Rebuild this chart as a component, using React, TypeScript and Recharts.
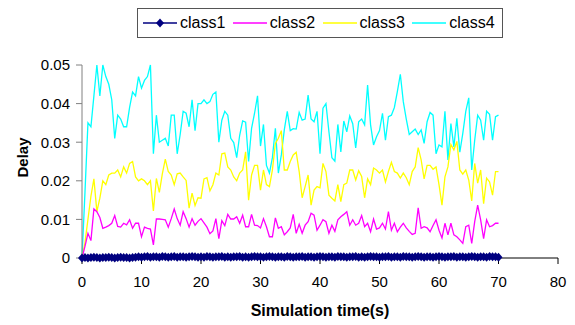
import { LineChart, Line, XAxis, YAxis, Legend, Label } from "recharts";

// sampling instants: one sample every 0.5 s, from 0 to 70 s
const STEP = 0.5;
const SAMPLES = 141;
const times = Array.from({ length: SAMPLES }, (_, i) => i * STEP);

const seriesNames = ["class1", "class2", "class3", "class4"];
const xTicks = [0, 10, 20, 30, 40, 50, 60, 70, 80];
const yTicks = [0, 0.01, 0.02, 0.03, 0.04, 0.05];

const class1 = [
  0, 0.0001, 0, 0.0001, 0.0002, 0.0001, 0, 0.0001, 0.0001, 0.0002,
  0.0001, 0, 0.0001, 0.0002, 0.0001, 0.0001, 0, 0.0001, 0.0002, 0.0003,
  0.0002, 0.0003, 0.0004, 0.0002, 0.0003, 0.0003, 0.0002, 0.0004, 0.0003, 0.0002,
  0.0003, 0.0004, 0.0002, 0.0003, 0.0003, 0.0002, 0.0003, 0.0004, 0.0003, 0.0002,
  0.0003, 0.0002, 0.0004, 0.0003, 0.0002, 0.0003, 0.0003, 0.0004, 0.0002, 0.0003,
  0.0002, 0.0003, 0.0003, 0.0004, 0.0002, 0.0003, 0.0002, 0.0003, 0.0004, 0.0003,
  0.0003, 0.0002, 0.0003, 0.0004, 0.0003, 0.0002, 0.0003, 0.0003, 0.0002, 0.0004,
  0.0003, 0.0002, 0.0003, 0.0003, 0.0004, 0.0002, 0.0003, 0.0003, 0.0002, 0.0003,
  0.0004, 0.0003, 0.0002, 0.0003, 0.0003, 0.0002, 0.0004, 0.0003, 0.0003, 0.0002,
  0.0003, 0.0003, 0.0004, 0.0002, 0.0003, 0.0002, 0.0003, 0.0004, 0.0003, 0.0003,
  0.0002, 0.0003, 0.0003, 0.0004, 0.0002, 0.0003, 0.0003, 0.0002, 0.0004, 0.0003,
  0.0003, 0.0002, 0.0003, 0.0004, 0.0003, 0.0002, 0.0003, 0.0003, 0.0002, 0.0003,
  0.0004, 0.0003, 0.0002, 0.0003, 0.0003, 0.0004, 0.0002, 0.0003, 0.0003, 0.0002,
  0.0003, 0.0004, 0.0003, 0.0002, 0.0003, 0.0003, 0.0002, 0.0004, 0.0003, 0.0003,
  0.0002,
];

const class2 = [
  0, 0.003, 0.0064, 0.0045, 0.0127, 0.012, 0.0105, 0.0077, 0.008, 0.0084,
  0.009, 0.011, 0.0082, 0.008, 0.009, 0.0086, 0.0099, 0.0077, 0.009, 0.009,
  0.0055, 0.008, 0.0077, 0.0075, 0.0034, 0.0101, 0.0101, 0.01, 0.0099, 0.008,
  0.0102, 0.0127, 0.0102, 0.0085, 0.012, 0.0102, 0.008, 0.0102, 0.0085, 0.0095,
  0.0102, 0.0091, 0.008, 0.0063, 0.007, 0.0102, 0.005, 0.0097, 0.0084, 0.0113,
  0.0101, 0.0101, 0.0107, 0.009, 0.0111, 0.0081, 0.0081, 0.0113, 0.0085, 0.0084,
  0.0078, 0.0102, 0.0081, 0.0055, 0.0055, 0.0104, 0.0077, 0.0081, 0.006, 0.0068,
  0.0078, 0.0113, 0.0064, 0.0087, 0.0064, 0.0085, 0.0094, 0.0116, 0.0111, 0.0072,
  0.0085, 0.0099, 0.0094, 0.0064, 0.0085, 0.0069, 0.0099, 0.0107, 0.0113, 0.012,
  0.0085, 0.0099, 0.0085, 0.009, 0.011, 0.0081, 0.009, 0.0068, 0.0101, 0.0075,
  0.0078, 0.009, 0.0075, 0.012, 0.0072, 0.009, 0.0068, 0.008, 0.009, 0.0078,
  0.0069, 0.0061, 0.0064, 0.013, 0.0077, 0.0081, 0.0078, 0.0068, 0.0084, 0.0099,
  0.0072, 0.0052, 0.009, 0.006, 0.009, 0.006, 0.0055, 0.0047, 0.0038, 0.0081,
  0.0085, 0.0038, 0.0094, 0.0137, 0.0099, 0.005, 0.0099, 0.0081, 0.0084, 0.009,
  0.009,
];

const class3 = [
  0, 0.004, 0.01, 0.016, 0.0205, 0.012, 0.0155, 0.02, 0.019, 0.0215,
  0.022, 0.022, 0.0228, 0.021, 0.0236, 0.022, 0.0245, 0.025, 0.021, 0.02,
  0.0205, 0.02, 0.019, 0.02, 0.0122, 0.0206, 0.017, 0.0218, 0.0256, 0.0224,
  0.0215, 0.019, 0.0218, 0.022, 0.021, 0.0201, 0.0129, 0.0168, 0.0136, 0.0156,
  0.0155, 0.0205, 0.0208, 0.0174, 0.019, 0.022, 0.0215, 0.027, 0.0272, 0.0236,
  0.0228, 0.021, 0.02, 0.022, 0.0228, 0.0275, 0.015, 0.0215, 0.024, 0.024,
  0.0176, 0.0228, 0.019, 0.0185, 0.0228, 0.0297, 0.031, 0.033, 0.0228, 0.0228,
  0.025, 0.0267, 0.0274, 0.0224, 0.0156, 0.0185, 0.0215, 0.0137, 0.0176, 0.0185,
  0.0182, 0.0245, 0.0224, 0.0163, 0.0155, 0.0148, 0.019, 0.0146, 0.019, 0.0194,
  0.0228, 0.0228, 0.0202, 0.0226, 0.0211, 0.0156, 0.0205, 0.019, 0.0233, 0.0228,
  0.022, 0.0228, 0.0197, 0.0224, 0.0248, 0.0224, 0.022, 0.0207, 0.022, 0.0208,
  0.019, 0.0224, 0.0236, 0.0286, 0.0254, 0.0205, 0.024, 0.024, 0.023, 0.0236,
  0.019, 0.0137, 0.021, 0.0236, 0.0294, 0.028, 0.0302, 0.0228, 0.0217, 0.0228,
  0.0202, 0.0148, 0.0245, 0.0194, 0.0228, 0.0141, 0.0207, 0.0197, 0.0163, 0.0224,
  0.0224,
];

const class4 = [
  0, 0.017, 0.035, 0.034, 0.042, 0.05, 0.042, 0.05, 0.047, 0.045,
  0.041, 0.031, 0.037, 0.036, 0.034, 0.034, 0.039, 0.043, 0.042, 0.047,
  0.044, 0.046, 0.047, 0.05, 0.027, 0.037, 0.03, 0.0305, 0.031, 0.029,
  0.037, 0.037, 0.027, 0.032, 0.038, 0.0375, 0.034, 0.041, 0.033, 0.04,
  0.04, 0.041, 0.04, 0.0405, 0.0424, 0.043, 0.03, 0.0357, 0.038, 0.037,
  0.031, 0.0299, 0.026, 0.0318, 0.0355, 0.0352, 0.025, 0.0336, 0.0375, 0.042,
  0.029, 0.0346, 0.024, 0.022, 0.026, 0.0336, 0.022, 0.0267, 0.0332, 0.038,
  0.033, 0.0335, 0.0334, 0.0377, 0.0357, 0.036, 0.0422, 0.036, 0.0353, 0.038,
  0.027, 0.0388, 0.04, 0.0327, 0.026, 0.0251, 0.0346, 0.0275, 0.0355, 0.0327,
  0.0368, 0.0348, 0.0285, 0.0353, 0.036, 0.0345, 0.0448, 0.0345, 0.0293, 0.0314,
  0.033, 0.0375, 0.0305, 0.0366, 0.037, 0.039, 0.0431, 0.0476, 0.0405, 0.036,
  0.032, 0.0327, 0.0334, 0.032, 0.0332, 0.0297, 0.0353, 0.0377, 0.037, 0.027,
  0.0293, 0.0288, 0.038, 0.0254, 0.0348, 0.0288, 0.0362, 0.0274, 0.0323, 0.038,
  0.0415, 0.0228, 0.0305, 0.037, 0.0357, 0.0305, 0.038, 0.0372, 0.0305, 0.0366,
  0.037,
];

const data = times.map((t, i) => ({
  t,
  class1: class1[i],
  class2: class2[i],
  class3: class3[i],
  class4: class4[i],
}));

const colors: Record<string, string> = {
  class1: "#000080",
  class2: "#ff00ff",
  class3: "#ffff00",
  class4: "#00ffff",
};

const FONT = "Arial, 'Liberation Sans', sans-serif";

const Diamond = (props: any) => {
  const { cx, cy, index } = props;
  if (cx == null || cy == null) return <g key={index} />;
  return (
    <path
      key={index}
      d={`M${cx},${cy - 4.5} L${cx + 4},${cy} L${cx},${cy + 4.5} L${cx - 4},${cy} Z`}
      fill="#000080"
      stroke="none"
    />
  );
};

const LegendBox = () => (
  <div
    style={{
      boxSizing: "border-box",
      width: 366,
      height: 30,
      border: "1px solid #555",
      background: "#fff",
      display: "flex",
      alignItems: "center",
      paddingLeft: 5,
      fontFamily: FONT,
      fontSize: 16,
      color: "#000",
    }}
  >
    {seriesNames.map((name) => (
      <div key={name} style={{ display: "flex", alignItems: "center", width: 90 }}>
        <svg width={34} height={12} style={{ marginRight: 3 }}>
          <line x1={0} y1={6} x2={34} y2={6} stroke={colors[name]} strokeWidth={1.3} />
          {name === "class1" && <path d="M17,1.5 L21,6 L17,10.5 L13,6 Z" fill="#000080" />}
        </svg>
        <span>{name}</span>
      </div>
    ))}
  </div>
);

export default function App() {
  return (
    <div style={{ position: "absolute", left: 0, top: 0, width: 575, height: 325, background: "#fff" }}>
      <LineChart
        width={575}
        height={325}
        data={data}
        margin={{ top: 65, right: 17, left: 0, bottom: 0 }}
      >
        <XAxis
          dataKey="t"
          type="number"
          domain={[0, 80]}
          ticks={xTicks}
          height={67}
          tickSize={6}
          tickMargin={12}
          stroke="#000"
          tick={{ fill: "#000", fontSize: 15, fontFamily: FONT }}
        >
          <Label
            content={(p: any) => {
              const vb = p.viewBox;
              return (
                <text
                  x={vb.x + vb.width / 2}
                  y={316}
                  textAnchor="middle"
                  fontFamily={FONT}
                  fontSize={16}
                  fontWeight="bold"
                  fill="#000"
                >
                  Simulation time(s)
                </text>
              );
            }}
          />
        </XAxis>
        <YAxis
          type="number"
          domain={[0, 0.05]}
          ticks={yTicks}
          width={82}
          tickSize={6}
          tickMargin={6}
          stroke="#808080"
          tick={{ fill: "#000", fontSize: 15, fontFamily: FONT }}
        >
          <Label
            content={(p: any) => {
              const vb = p.viewBox;
              const cy = vb.y + vb.height / 2 - 4;
              return (
                <text
                  x={22}
                  y={cy}
                  transform={`rotate(-90, 22, ${cy})`}
                  textAnchor="middle"
                  dominantBaseline="central"
                  fontFamily={FONT}
                  fontSize={15}
                  fontWeight="bold"
                  fill="#000"
                >
                  Delay
                </text>
              );
            }}
          />
        </YAxis>
        <Legend
          layout="vertical"
          align="center"
          verticalAlign="middle"
          content={() => <LegendBox />}
          wrapperStyle={{ position: "absolute", left: 137, top: 8, width: 366, height: 30 }}
        />
        <Line dataKey="class4" name="class4" stroke={colors.class4} strokeWidth={1.3} dot={false} isAnimationActive={false} />
        <Line dataKey="class3" name="class3" stroke={colors.class3} strokeWidth={1.3} dot={false} isAnimationActive={false} />
        <Line dataKey="class2" name="class2" stroke={colors.class2} strokeWidth={1.3} dot={false} isAnimationActive={false} />
        <Line dataKey="class1" name="class1" stroke={colors.class1} strokeWidth={1.3} dot={Diamond} isAnimationActive={false} />
      </LineChart>
    </div>
  );
}
